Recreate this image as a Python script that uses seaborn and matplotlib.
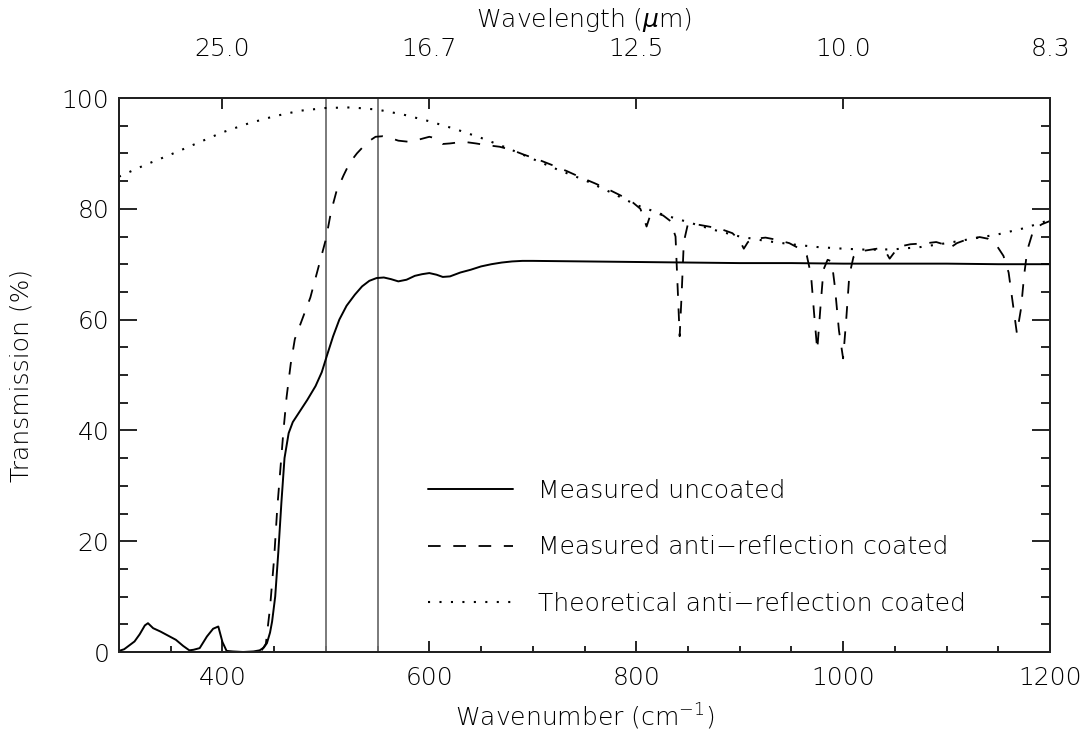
import numpy as np
import pandas as pd
import matplotlib
matplotlib.use("Agg")
import matplotlib.pyplot as plt
import seaborn as sns

# measured, uncoated
wn_unc = [300, 305, 310, 315, 320, 325, 328, 333, 340, 347, 355, 362, 368, 372, 378,
          385, 391, 396, 400, 404, 410, 420, 430, 436, 440, 443, 446, 448, 451, 454,
          457, 460, 464, 468, 475, 482, 490, 496, 501, 507, 513, 520, 528, 535, 542,
          549, 556, 563, 570, 578, 586, 593, 600, 607, 613, 620, 630, 640, 650, 660,
          670, 680, 690, 700, 750, 800, 850, 900, 950, 1000, 1050, 1100, 1150, 1200]
tr_unc = [0.2, 0.5, 1.2, 1.9, 3.2, 4.8, 5.2, 4.3, 3.7, 3.0, 2.2, 1.1, 0.3, 0.4, 0.7,
          2.8, 4.2, 4.6, 1.8, 0.2, 0.1, 0.0, 0.1, 0.3, 0.8, 1.6, 3.5, 5.5, 10.0, 18.0,
          27.0, 35.0, 39.5, 41.5, 43.5, 45.5, 48.0, 50.5, 53.5, 57.0, 60.0, 62.5, 64.5, 66.0, 67.0,
          67.5, 67.6, 67.3, 66.9, 67.2, 67.9, 68.2, 68.4, 68.1, 67.7, 67.8, 68.5, 69.0, 69.6, 70.0,
          70.3, 70.5, 70.6, 70.6, 70.5, 70.4, 70.3, 70.2, 70.2, 70.1, 70.1, 70.1, 70.0, 70.0]

# measured, anti-reflection coated
wn_ar = [438, 442, 446, 450, 453, 456, 459, 462, 466, 470, 475, 480, 485, 490, 495,
         500, 505, 510, 517, 523, 530, 540, 548, 555, 562, 570, 580, 590, 600, 607,
         613, 620, 633, 645, 655, 668, 680, 691, 705, 720, 733, 746, 760, 772, 785,
         797, 804, 807, 810, 813, 818, 826, 833, 838, 840, 842, 844, 846, 850, 858,
         870, 881, 893, 900, 904, 908, 915, 925, 936, 948, 958, 965, 969, 972, 975,
         978, 981, 985, 989, 992, 996, 1000, 1003, 1006, 1010, 1016, 1026, 1036, 1041, 1045,
         1049, 1055, 1065, 1081, 1090, 1097, 1103, 1110, 1120, 1132, 1140, 1148, 1155, 1160, 1164,
         1168, 1172, 1175, 1178, 1184, 1192, 1200]
tr_ar = [0.3, 1.5, 8.0, 17.0, 26.0, 33.0, 40.0, 46.0, 52.0, 56.5, 59.0, 61.5, 64.0, 67.5, 71.0,
         74.5, 79.5, 83.0, 86.0, 88.3, 90.0, 92.0, 93.0, 93.1, 92.8, 92.3, 92.1, 92.5, 93.0, 92.7,
         91.7, 91.8, 92.1, 91.8, 91.5, 91.2, 90.6, 89.8, 88.9, 87.8, 86.8, 85.7, 84.6, 83.6, 82.4,
         81.1, 80.0, 78.5, 76.8, 78.5, 79.3, 78.8, 77.8, 75.0, 66.0, 57.0, 65.0, 74.0, 77.3, 77.2,
         76.8, 76.4, 75.6, 74.3, 72.8, 74.0, 74.6, 74.8, 74.4, 73.8, 72.8, 71.5, 68.0, 61.0, 54.5,
         62.0, 69.0, 70.8, 70.5, 66.0, 58.0, 53.0, 60.0, 68.0, 71.3, 72.3, 72.6, 72.9, 72.3, 71.0,
         72.0, 73.2, 73.6, 73.8, 74.0, 73.6, 72.9, 73.8, 74.5, 74.9, 74.6, 73.5, 71.5, 68.5, 63.0,
         57.5, 62.0, 68.0, 72.5, 76.2, 77.2, 77.8]

# theoretical, anti-reflection coated
wn_th = [300, 325, 350, 375, 400, 425, 450, 475, 500, 525, 550, 575, 600, 625, 650,
         675, 700, 725, 750, 775, 800, 825, 850, 875, 900, 925, 950, 975, 1000, 1025,
         1050, 1075, 1100, 1125, 1150, 1175, 1200]
tr_th = [85.8, 87.9, 89.8, 91.8, 93.8, 95.4, 96.7, 97.7, 98.2, 98.3, 97.9, 97.0, 95.8, 94.4, 92.8,
         91.0, 89.0, 87.0, 85.2, 83.0, 80.7, 79.0, 77.6, 76.2, 75.0, 74.2, 73.6, 73.1, 72.8, 72.6,
         72.7, 73.1, 73.8, 74.6, 75.4, 76.5, 78.0]

marker_lines = [500, 550]
top_ticks = [400, 600, 800, 1000, 1200]

sns.set_theme(style="ticks")
plt.rcParams["font.family"] = ["DejaVu Sans"]
plt.rcParams["font.weight"] = "light"
plt.rcParams["axes.labelweight"] = "light"
plt.rcParams["mathtext.default"] = "regular"
plt.rcParams["text.color"] = "black"
plt.rcParams["axes.labelcolor"] = "black"
plt.rcParams["xtick.color"] = "black"
plt.rcParams["ytick.color"] = "black"

fig = plt.figure(figsize=(10.87, 7.32), dpi=100)
ax = fig.add_axes([119 / 1087, 1 - 652 / 732, 931 / 1087, 554 / 732])

for xv in marker_lines:
    ax.axvline(xv, color="#707070", lw=1.3, zorder=1)

df_unc = pd.DataFrame({"wn": wn_unc, "tr": tr_unc})
df_ar = pd.DataFrame({"wn": wn_ar, "tr": tr_ar})
df_th = pd.DataFrame({"wn": wn_th, "tr": tr_th})

sns.lineplot(data=df_unc, x="wn", y="tr", ax=ax, color="black", lw=1.4,
             label="Measured uncoated", estimator=None, sort=False)
sns.lineplot(data=df_ar, x="wn", y="tr", ax=ax, color="black", lw=1.3,
             linestyle=(0, (7, 7)), label="Measured anti\u2212reflection coated",
             estimator=None, sort=False)
sns.lineplot(data=df_th, x="wn", y="tr", ax=ax, color="black", lw=1.5,
             linestyle=(0, (1, 4.5)), label="Theoretical anti\u2212reflection coated",
             estimator=None, sort=False)

ax.set_xlim(300, 1200)
ax.set_ylim(0, 100)
ax.set_xticks([400, 600, 800, 1000, 1200])
ax.set_xticks(np.arange(300, 1201, 50), minor=True)
ax.set_yticks([0, 20, 40, 60, 80, 100])
ax.set_yticks(np.arange(0, 101, 5), minor=True)
ax.tick_params(axis="y", which="major", direction="in", length=13, width=1.2,
               labelsize=18, pad=7, right=True, left=True)
ax.tick_params(axis="y", which="minor", direction="in", length=6.5, width=1.2,
               right=True, left=True)
ax.tick_params(axis="x", which="major", direction="in", length=8, width=1.2,
               labelsize=18, pad=10, top=False)
ax.tick_params(axis="x", which="minor", direction="in", length=4, width=1.2, top=False)
for sp in ax.spines.values():
    sp.set_linewidth(1.4)
    sp.set_color("black")

ax.set_xlabel("Wavenumber (cm$^{-1}$)", fontsize=18)
ax.set_ylabel("Transmission (%)", fontsize=18)
ax.xaxis.set_label_coords(0.5, -0.09)
ax.yaxis.set_label_coords(-0.092, 0.5)

top = ax.twiny()
top.set_xlim(ax.get_xlim())
top.set_xticks(top_ticks)
top.set_xticklabels([f"{1e4 / t:.1f}" for t in top_ticks])
top.tick_params(axis="x", direction="in", length=8, width=1.2, labelsize=18, pad=27)
top.set_xlabel(r"Wavelength ($\mathit{\mu}$m)", fontsize=18)
top.xaxis.set_label_coords(0.5, 1.128)

ax.legend(loc="upper left", bbox_to_anchor=(428 / 1087, 1 - 479 / 732),
          bbox_transform=fig.transFigure, frameon=False, fontsize=18,
          handlelength=3.4, handletextpad=1.0, labelspacing=1.3,
          borderpad=0, borderaxespad=0)

fig.savefig("out.png", dpi=100)
